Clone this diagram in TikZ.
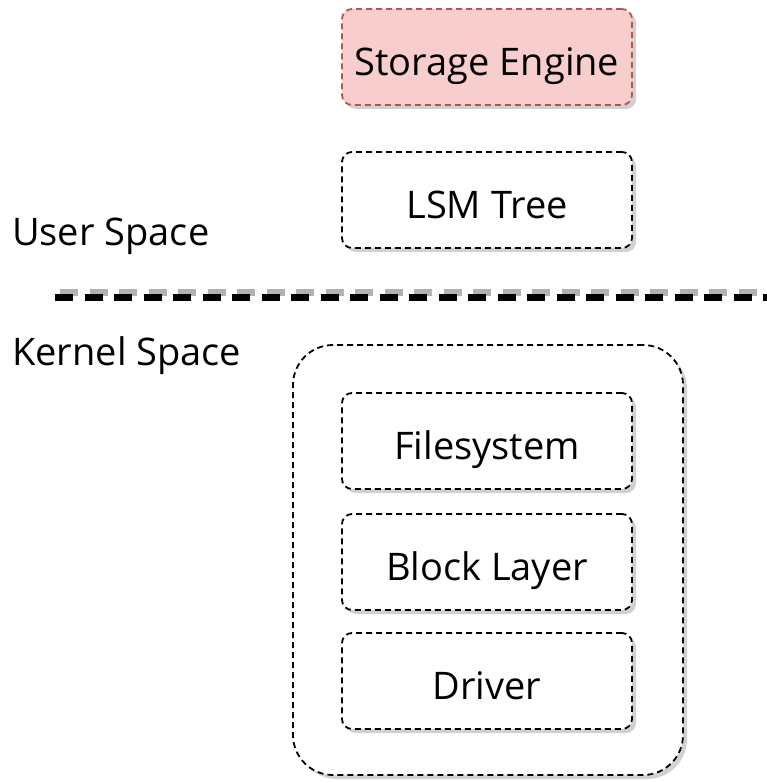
\documentclass[tikz,border=0pt]{standalone}
\usepackage{fontspec}
\setmainfont{Open Sans}
\usetikzlibrary{shadows}
\definecolor{engfill}{HTML}{F8CECC}
\definecolor{engdraw}{HTML}{B85450}
\tikzset{
  layerbox/.style={draw=black, fill=white, line width=1.8pt,
    dash pattern=on 6pt off 4pt, rounded corners=10pt,
    minimum width=290pt, minimum height=96pt,
    text height=37pt, text depth=0pt,
    font=\fontsize{38}{42}\selectfont,
    drop shadow={shadow xshift=4pt, shadow yshift=-4pt, fill=black!30, opacity=0.6}},
  spacelabel/.style={anchor=west, inner sep=0pt, font=\fontsize{38}{42}\selectfont},
}
\begin{document}
\begin{tikzpicture}[x=1pt, y=-1pt]
  \useasboundingbox (0,0) rectangle (766,783);
  % kernel container
  \node[layerbox, minimum width=390pt, minimum height=430pt, rounded corners=40pt]
    (kernel) at (488,560) {};
  % user-space components
  \node[layerbox, fill=engfill, draw=engdraw] (engine) at (487,57) {Storage Engine};
  \node[layerbox] (lsm) at (487,200) {LSM Tree};
  % kernel-space components
  \node[layerbox] (fs) at (487,441) {Filesystem};
  \node[layerbox] (block) at (487,562) {Block Layer};
  \node[layerbox] (driver) at (487,681) {Driver};
  % boundary between user and kernel space
  \coordinate (splitL) at (55,297);
  \coordinate (splitR) at (770,297);
  \draw[black!30, line width=7pt, dash pattern=on 18pt off 11.5pt]
    ([xshift=5pt, yshift=5pt]splitL) -- ([xshift=5pt, yshift=5pt]splitR);
  \draw[black, line width=7pt, dash pattern=on 18pt off 11.5pt] (splitL) -- (splitR);
  % region labels
  \node[spacelabel] (user) at (12,236) {User Space};
  \node[spacelabel] (kern) at (12,356) {Kernel Space};
\end{tikzpicture}
\end{document}
